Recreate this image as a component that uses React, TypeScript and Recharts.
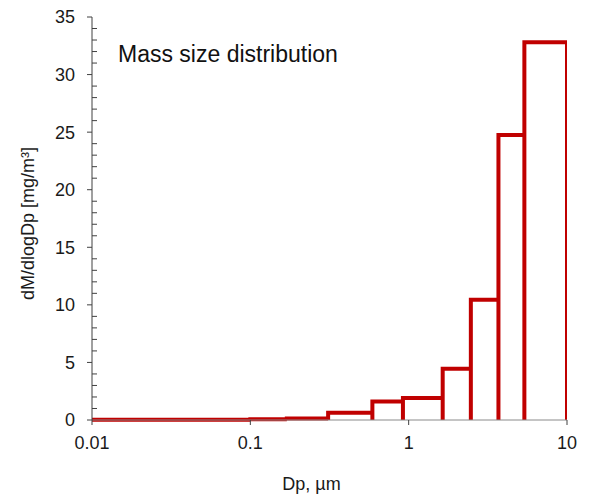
import { ComposedChart, Line, XAxis, YAxis, Label } from "recharts";

// bin edges (µm) and dM/dlogDp per bin (mg/m³)
const binEdges = [0.01, 0.1, 0.17, 0.31, 0.59, 0.92, 1.64, 2.47, 3.69, 5.38, 10];
const massValues = [0.02, 0.06, 0.14, 0.64, 1.6, 1.9, 4.45, 10.45, 24.75, 32.8];
const xTicks = [0.01, 0.1, 1, 10];
const yTicks = Array.from({ length: 36 }, (_, i) => i);

const FONT = "'Liberation Sans', Arial, sans-serif";
const RED = "#C00000";
const AXIS_DARK = "#404040";
const AXIS_GREY = "#8a8a8a";
const TICK_SIZE = 5;
const Y_TICK_MARGIN = 12;

// outline of each bar: up, across, down
const outline = massValues.flatMap((v, i) => [
  { dp: binEdges[i], m: 0 },
  { dp: binEdges[i], m: v },
  { dp: binEdges[i + 1], m: v },
  { dp: binEdges[i + 1], m: 0 },
]);

function YTick(props: any) {
  const { x, y, payload } = props;
  const axisX = x + TICK_SIZE + Y_TICK_MARGIN;
  const v = payload.value;
  if (v % 5 !== 0) {
    return <line x1={axisX} x2={axisX + TICK_SIZE} y1={y} y2={y} stroke={AXIS_DARK} strokeWidth={1} />;
  }
  return (
    <g>
      <line x1={axisX - TICK_SIZE} x2={axisX} y1={y} y2={y} stroke={AXIS_DARK} strokeWidth={1} />
      <text x={x} y={y} dy="0.355em" textAnchor="end" fontSize={18} fontFamily={FONT} fill="#1a1a1a">
        {v}
      </text>
    </g>
  );
}

export default function App() {
  return (
    <div style={{ position: "absolute", left: 0, top: 0, width: 589, height: 496, background: "#fff" }}>
      <ComposedChart
        width={589}
        height={496}
        data={outline}
        margin={{ top: 17, right: 22, bottom: 0, left: 0 }}
      >
        <XAxis
          xAxisId="top"
          orientation="top"
          dataKey="dp"
          type="number"
          scale="log"
          domain={[0.01, 10]}
          allowDataOverflow
          height={0}
          tick={false}
          tickLine={false}
          axisLine={{ stroke: AXIS_GREY }}
        />
        <YAxis
          yAxisId="right"
          orientation="right"
          type="number"
          domain={[0, 35]}
          width={0}
          tick={false}
          tickLine={false}
          axisLine={{ stroke: AXIS_GREY }}
        />
        <XAxis
          dataKey="dp"
          type="number"
          scale="log"
          domain={[0.01, 10]}
          allowDataOverflow
          ticks={xTicks}
          interval={0}
          tickFormatter={(v) => String(v)}
          height={76}
          tickSize={TICK_SIZE}
          tickMargin={11}
          tick={{ fontSize: 18, fontFamily: FONT, fill: "#1a1a1a" }}
          tickLine={{ stroke: AXIS_DARK }}
          axisLine={{ stroke: AXIS_GREY }}
        >
          <Label
            content={({ viewBox }: any) => (
              <text
                x={viewBox.x + viewBox.width / 2 - 18}
                y={viewBox.y + 70}
                textAnchor="middle"
                fontSize={18}
                fontFamily={FONT}
                fill="#1a1a1a"
              >
                Dp, µm
              </text>
            )}
          />
        </XAxis>
        <YAxis
          type="number"
          domain={[0, 35]}
          ticks={yTicks}
          interval={0}
          width={92}
          tickSize={TICK_SIZE}
          tickMargin={Y_TICK_MARGIN}
          tick={<YTick />}
          tickLine={false}
          axisLine={{ stroke: AXIS_DARK }}
        >
          <Label
            content={({ viewBox }: any) => {
              const cx = 28;
              const cy = viewBox.y + viewBox.height / 2 + 5;
              return (
                <text
                  x={cx}
                  y={cy}
                  transform={`rotate(-90 ${cx} ${cy})`}
                  textAnchor="middle"
                  dy="0.355em"
                  fontSize={18}
                  fontFamily={FONT}
                  fill="#1a1a1a"
                >
                  dM/dlogDp [mg/m³]
                </text>
              );
            }}
          />
        </YAxis>
        <Line
          dataKey="m"
          type="linear"
          stroke={RED}
          strokeWidth={4}
          dot={false}
          activeDot={false}
          isAnimationActive={false}
        />
      </ComposedChart>
      <div
        style={{
          position: "absolute",
          left: 118,
          top: 43,
          fontSize: 23,
          lineHeight: "23px",
          fontFamily: FONT,
          color: "#111",
          whiteSpace: "nowrap",
        }}
      >
        Mass size distribution
      </div>
    </div>
  );
}
